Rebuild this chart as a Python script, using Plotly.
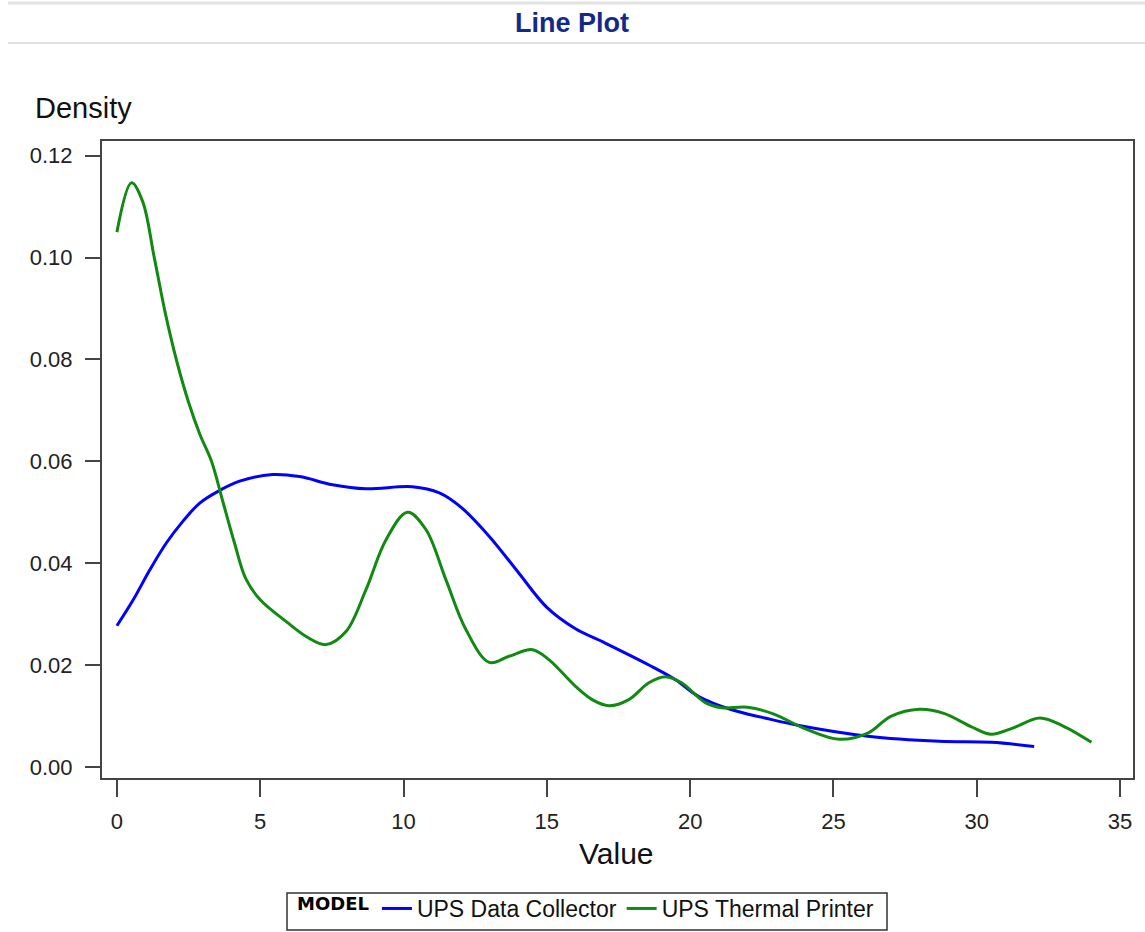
import plotly.graph_objects as go

# ---- data ----
collector_x = [0, 0.57, 1.15, 1.73, 2.3, 2.89, 3.59, 4.28, 5.43, 6.37, 7.52, 8.69,
               10.3, 11.25, 12.0, 13.0, 14.0, 15.0, 16.0, 17.0,
               18.56, 19.49, 20.3, 21.45, 22.6, 23.8, 26.2, 28.7, 30.5, 32.0]
collector_y = [0.0277, 0.0328, 0.0387, 0.0440, 0.0482, 0.0518, 0.0543, 0.0561, 0.0574,
               0.0570, 0.0554, 0.0546, 0.0550, 0.0538, 0.0510, 0.0452, 0.0382, 0.0313,
               0.0271, 0.0244, 0.0200, 0.0171, 0.0138, 0.0112, 0.0096,
               0.0081, 0.0060, 0.0050, 0.0048, 0.0040]

printer_x = [0, 0.51, 0.9, 1.3, 1.7, 2.1, 2.5, 2.9, 3.3, 3.7, 4.1, 4.5, 5.0,
             5.91, 6.6, 7.3, 8.0, 8.69, 9.39, 10.14, 10.78, 11.48, 12.18, 12.99,
             13.68, 14.5, 15.08, 16.0, 16.58, 17.17, 17.86, 18.56, 19.14, 19.7, 20.53,
             21.1, 22.0, 22.9, 24.0, 25.2, 26.2, 27.0, 28.0, 28.85, 29.8, 30.5, 31.25,
             32.2, 33.05, 34.0]
printer_y = [0.1050, 0.1147, 0.1110, 0.1001, 0.0888, 0.0794, 0.0716, 0.0652, 0.0600,
             0.0520, 0.0440, 0.0369, 0.0328, 0.0285, 0.0256, 0.0240, 0.0266,
             0.0348, 0.0446, 0.0500, 0.0466, 0.0367, 0.0269, 0.0205, 0.0217, 0.0230,
             0.0210, 0.0158, 0.0132, 0.0120, 0.0132, 0.0165, 0.0177, 0.0165, 0.0126,
             0.0116, 0.0117, 0.0104, 0.0075, 0.0054, 0.0066, 0.0099, 0.0113, 0.0105,
             0.0079, 0.0064, 0.0076, 0.0096, 0.0079, 0.0048]

series_names = ["UPS Data Collector", "UPS Thermal Printer"]
x_ticks = [0, 5, 10, 15, 20, 25, 30, 35]
y_ticks = [0.00, 0.02, 0.04, 0.06, 0.08, 0.10, 0.12]

FONT = "Liberation Sans, Arial, sans-serif"
W, H = 1145, 932

fig = go.Figure()
fig.add_trace(go.Scatter(x=collector_x, y=collector_y, mode="lines",
                         name=series_names[0],
                         line=dict(color="#0000FF", width=3, shape="spline")))
fig.add_trace(go.Scatter(x=printer_x, y=printer_y, mode="lines",
                         name=series_names[1],
                         line=dict(color="#118A11", width=3, shape="spline")))

axis_common = dict(showline=True, mirror=True, linecolor="#444444", linewidth=2,
                   ticks="outside", tickcolor="#444444", tickwidth=2,
                   showgrid=False, zeroline=False,
                   tickfont=dict(family=FONT, size=22, color="#222222"))

fig.update_xaxes(range=[-0.52, 35.45], tickvals=x_ticks, ticklen=17,
                 ticklabelstandoff=6, **axis_common)
fig.update_yaxes(range=[-0.0022, 0.1229], tickvals=y_ticks, tickformat=".2f",
                 ticklen=15, ticklabelstandoff=8, **axis_common)


def px_x(p):
    return (p - 102) / 1031


def px_y(p):
    return (778 - p) / 637


fig.update_layout(
    width=W, height=H,
    margin=dict(l=102, r=12, t=141, b=154, autoexpand=False),
    paper_bgcolor="white", plot_bgcolor="white",
    title=dict(text="<b>Line Plot</b>", x=572 / W, xanchor="center", xref="container",
               y=1 - 23 / H, yanchor="middle", yref="container",
               font=dict(family=FONT, size=27, color="#112A8A")),
    showlegend=True,
    legend=dict(orientation="h", x=px_x(587), xanchor="center", y=px_y(887),
                yanchor="top", borderwidth=0, bgcolor="rgba(0,0,0,0)",
                font=dict(family=FONT, size=23, color="#111111"),
                title=dict(text="<b>MODEL</b>", side="left",
                           font=dict(family="DejaVu Sans, sans-serif", size=18,
                                     color="#000000"))),
    annotations=[
        dict(text="Density", xref="paper", yref="paper", x=px_x(33),
             y=px_y(108), xanchor="left", yanchor="middle", showarrow=False,
             font=dict(family=FONT, size=29, color="#111111")),
        dict(text="Value", xref="paper", yref="paper", x=px_x(616),
             y=px_y(853), xanchor="center", yanchor="middle", showarrow=False,
             font=dict(family=FONT, size=30, color="#111111")),
    ],
    shapes=[
        dict(type="line", xref="paper", yref="paper", x0=px_x(8), x1=px_x(1145),
             y0=px_y(3), y1=px_y(3), line=dict(color="#E2E2E2", width=3)),
        dict(type="line", xref="paper", yref="paper", x0=px_x(8), x1=px_x(1145),
             y0=px_y(43), y1=px_y(43), line=dict(color="#E2E2E2", width=2)),
        # legend frame
        dict(type="rect", xref="paper", yref="paper", x0=px_x(287), x1=px_x(887),
             y0=px_y(893), y1=px_y(930), line=dict(color="#333333", width=1.5),
             fillcolor="rgba(0,0,0,0)"),
    ],
)

fig.write_html("out.html", config={"displayModeBar": False},
               post_script="document.body.style.margin='0';"
                           "document.body.style.overflow='hidden';")
